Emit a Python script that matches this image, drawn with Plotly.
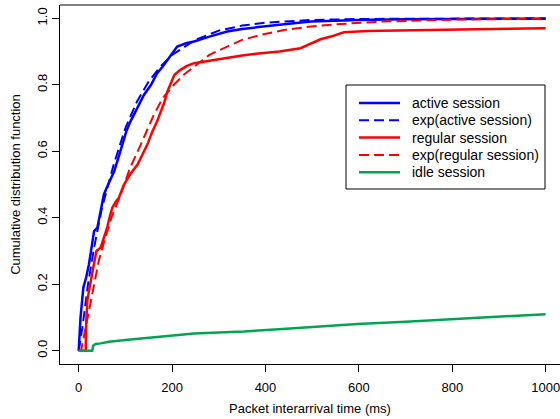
import plotly.graph_objects as go

# ---- data ----
active_x = [0, 4, 10, 16, 22, 28, 33, 40, 47, 54, 60, 67, 76, 85, 93, 102, 111, 125, 140, 155,
            168, 180, 190, 200, 211, 230, 247, 280, 318, 350, 390, 440, 497, 550, 600, 700, 800, 1000]
active_y = [0, 0.10, 0.19, 0.22, 0.26, 0.31, 0.36, 0.37, 0.42, 0.47, 0.49, 0.51, 0.54, 0.58, 0.62,
            0.66, 0.69, 0.73, 0.77, 0.80, 0.835, 0.855, 0.875, 0.895, 0.915, 0.925, 0.93, 0.945,
            0.96, 0.968, 0.975, 0.982, 0.99, 0.993, 0.995, 0.997, 0.998, 0.999]

exp_active_x = [0, 8, 20, 33, 50, 75, 100, 125, 150, 175, 200, 250, 300, 350, 400, 500, 600, 800, 1000]
exp_active_y = [0, 0.07, 0.20, 0.31, 0.43, 0.56, 0.67, 0.75, 0.81, 0.855, 0.89, 0.935, 0.963,
                0.978, 0.987, 0.995, 0.998, 0.999, 1.0]

regular_x = [0, 15, 16, 18.5, 22, 26, 32, 38, 47, 54, 61, 66, 72, 80, 86, 97, 110, 126, 137, 147,
             158, 168, 176, 183, 190, 197, 205, 218, 232, 247, 260, 276, 300, 318, 350, 390, 430,
             475, 497, 518, 540, 568, 618, 700, 760, 850, 1000]
regular_y = [0, 0, 0.08, 0.15, 0.18, 0.21, 0.26, 0.30, 0.31, 0.34, 0.37, 0.40, 0.43, 0.45, 0.46,
             0.50, 0.53, 0.56, 0.59, 0.62, 0.66, 0.69, 0.72, 0.745, 0.78, 0.805, 0.83, 0.845, 0.857,
             0.865, 0.868, 0.872, 0.877, 0.88, 0.888, 0.895, 0.90, 0.91, 0.925, 0.937, 0.945, 0.958,
             0.962, 0.963, 0.965, 0.967, 0.97]

exp_regular_x = [0, 5, 15, 25, 33, 43, 55, 70, 90, 110, 133, 161, 180, 204, 225, 247, 280, 318,
                 350, 390, 440, 497, 550, 650, 800, 1000]
exp_regular_y = [0, 0.0, 0.07, 0.14, 0.19, 0.27, 0.33, 0.40, 0.47, 0.55, 0.62, 0.71, 0.76, 0.80,
                 0.83, 0.855, 0.89, 0.915, 0.935, 0.95, 0.965, 0.975, 0.982, 0.99, 0.996, 0.999]

idle_x = [0, 29, 31, 36, 47, 65, 100, 140, 200, 247, 300, 354, 420, 497, 597, 700, 797, 900, 1000]
idle_y = [0, 0, 0.015, 0.02, 0.022, 0.027, 0.032, 0.037, 0.045, 0.052, 0.055, 0.058, 0.064,
          0.071, 0.080, 0.087, 0.095, 0.103, 0.11]

series_names = ["active session", "exp(active session)", "regular session",
                "exp(regular session)", "idle session"]

x_ticks = [0, 200, 400, 600, 800, 1000]
y_ticks = [0.0, 0.2, 0.4, 0.6, 0.8, 1.0]
y_tick_labels = ["0.0", "0.2", "0.4", "0.6", "0.8", "1.0"]

BLUE = "#0000FF"
RED = "#FF0000"
GREEN = "#00A550"
FONT = "Liberation Sans, Arial, sans-serif"
DASH = "10px,5px"

styles = [dict(color=BLUE, width=2.5), dict(color=BLUE, width=2, dash=DASH),
          dict(color=RED, width=2.5), dict(color=RED, width=2, dash=DASH),
          dict(color=GREEN, width=2.5)]
data = [(active_x, active_y), (exp_active_x, exp_active_y), (regular_x, regular_y),
        (exp_regular_x, exp_regular_y), (idle_x, idle_y)]

fig = go.Figure()
for (xs, ys), name, st in zip(data, series_names, styles):
    fig.add_trace(go.Scatter(x=xs, y=ys, mode="lines", name=name, line=st, showlegend=False))

# ---- plot area geometry (pixels) ----
W, H = 560, 419
L, R, T, B = 60, 0, 5, 55
pw, ph = W - L - R, H - T - B


def px(xp):
    return (xp - L) / pw


def py(yp):
    return (H - B - yp) / ph


shapes = [dict(type="line", xref="paper", yref="paper", x0=0, x1=1, y0=1, y1=1,
               line=dict(color="black", width=1))]
annotations = []

# legend box drawn manually (tight R-style spacing)
box_l, box_r, box_t, box_b = 346, 545, 85, 189
shapes.append(dict(type="rect", xref="paper", yref="paper", x0=px(box_l), x1=px(box_r),
                   y0=py(box_b), y1=py(box_t), line=dict(color="black", width=1),
                   fillcolor="white", layer="above"))
row0, row_gap = 103, 17.3
for i, (name, st) in enumerate(zip(series_names, styles)):
    yy = row0 + i * row_gap
    shapes.append(dict(type="line", xref="paper", yref="paper", x0=px(359), x1=px(400),
                       y0=py(yy), y1=py(yy), line=st, layer="above"))
    annotations.append(dict(xref="paper", yref="paper", x=px(410), y=py(yy), text=name,
                            showarrow=False, xanchor="left", yanchor="middle",
                            font=dict(size=14, family=FONT, color="black")))

fig.update_layout(
    width=W, height=H,
    margin=dict(l=L, r=R, t=T, b=B),
    paper_bgcolor="white", plot_bgcolor="white",
    font=dict(family=FONT, size=13, color="black"),
    showlegend=False,
    xaxis=dict(range=[-40, 1030.7], tickvals=x_ticks, ticks="outside", ticklen=7,
               tickcolor="black", showline=True, linecolor="black", linewidth=1,
               showgrid=False, zeroline=False, automargin=False,
               tickfont=dict(size=13), ticklabeloverflow="allow", ticklabelstandoff=4,
               title=dict(text="Packet interarrival time (ms)", standoff=10, font=dict(size=13))),
    yaxis=dict(range=[-0.04, 1.04], tickvals=y_ticks, ticktext=y_tick_labels, tickangle=-90,
               ticks="outside", ticklen=7, tickcolor="black", showline=True, linecolor="black",
               linewidth=1, showgrid=False, zeroline=False, automargin=False,
               tickfont=dict(size=13), ticklabeloverflow="allow",
               title=dict(text="Cumulative distribution function", standoff=11, font=dict(size=13))),
    shapes=shapes,
    annotations=annotations,
)

fig.write_html("out.html", config={"displayModeBar": False},
               post_script="document.body.style.margin='0';")
